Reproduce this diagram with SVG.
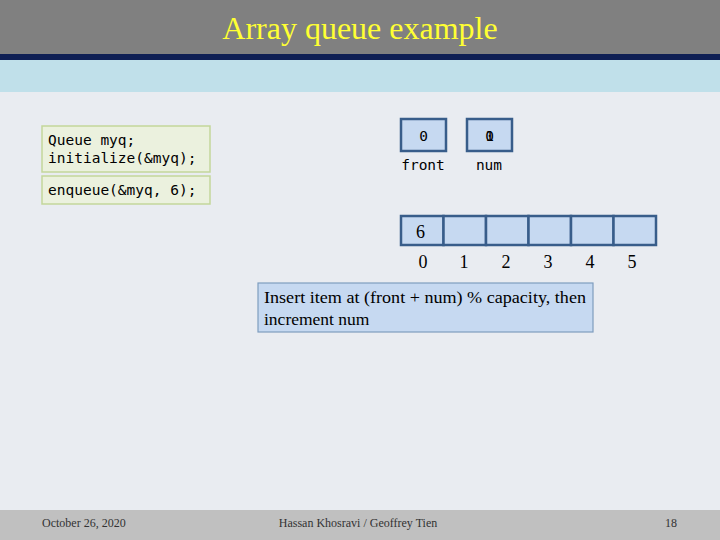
<svg xmlns="http://www.w3.org/2000/svg" width="720" height="540" viewBox="0 0 720 540">
<style>
.code{font-family:"DejaVu Sans Mono","Liberation Mono",monospace;font-size:14.5px;fill:#000}
.serif{font-family:"Liberation Serif","Times New Roman",serif;fill:#000}
.codebox{fill:#EBF1DE;stroke:#C3D69B;stroke-width:1.5}
.cell{fill:#C6D9F1;stroke:#385D8A;stroke-width:2.5}
.foot{font-family:"Liberation Serif",serif;font-size:12px;fill:#333}
</style>
<rect x="0" y="0" width="720" height="540" fill="#E9ECF1"/>
<rect x="0" y="0" width="720" height="54" fill="#808080"/>
<rect x="0" y="54" width="720" height="6" fill="#0F1F54"/>
<rect x="0" y="60" width="720" height="32" fill="#C0E0EA"/>
<text x="360" y="39" text-anchor="middle" font-family="Liberation Serif,serif" font-size="32" fill="#FFFF33">Array queue example</text>
<rect x="0" y="510" width="720" height="30" fill="#C0C0C0"/>
<text class="foot" x="42" y="527">October 26, 2020</text>
<text class="foot" x="358" y="527" text-anchor="middle">Hassan Khosravi / Geoffrey Tien</text>
<text class="foot" x="677" y="527" text-anchor="end">18</text>
<g id="code1">
<rect class="codebox" x="42" y="126" width="168" height="46"/>
<text class="code" x="48" y="145">Queue myq;</text>
<text class="code" x="48" y="163">initialize(&amp;myq);</text>
</g>
<g id="code2">
<rect class="codebox" x="42" y="176" width="168" height="28"/>
<text class="code" x="48" y="195">enqueue(&amp;myq, 6);</text>
</g>
<g id="front">
<rect class="cell" x="401" y="119" width="45" height="32"/>
<text class="code" x="423.5" y="141" text-anchor="middle" font-size="16">0</text>
<text class="code" x="423" y="170" text-anchor="middle" font-size="16.5">front</text>
</g>
<g id="num">
<rect class="cell" x="467" y="119" width="45" height="32"/>
<text class="code" x="489.5" y="141" text-anchor="middle" font-size="16">0</text>
<text class="code" x="489.5" y="141" text-anchor="middle" font-size="16">1</text>
<text class="code" x="489" y="170" text-anchor="middle" font-size="16.5">num</text>
</g>
<g id="array">
<rect class="cell" x="401" y="216" width="42.5" height="29"/>
<rect class="cell" x="443.5" y="216" width="42.5" height="29"/>
<rect class="cell" x="486" y="216" width="42.5" height="29"/>
<rect class="cell" x="528.5" y="216" width="42.5" height="29"/>
<rect class="cell" x="571" y="216" width="42.5" height="29"/>
<rect class="cell" x="613.5" y="216" width="42.5" height="29"/>
<text class="serif" x="416" y="238" font-size="18">6</text>
<g class="serif" font-size="18" text-anchor="middle">
<text x="423" y="268">0</text>
<text x="464" y="268">1</text>
<text x="506" y="268">2</text>
<text x="548" y="268">3</text>
<text x="590" y="268">4</text>
<text x="632" y="268">5</text>
</g>
</g>
<g id="note">
<rect x="258" y="283" width="335" height="49" fill="#C6D9F1" stroke="#7F9DBF" stroke-width="1.2"/>
<text class="serif" x="264" y="303" font-size="17.5" textLength="322" lengthAdjust="spacingAndGlyphs">Insert item at (front + num) % capacity, then</text>
<text class="serif" x="264" y="325" font-size="17.5">increment num</text>
</g>
</svg>
